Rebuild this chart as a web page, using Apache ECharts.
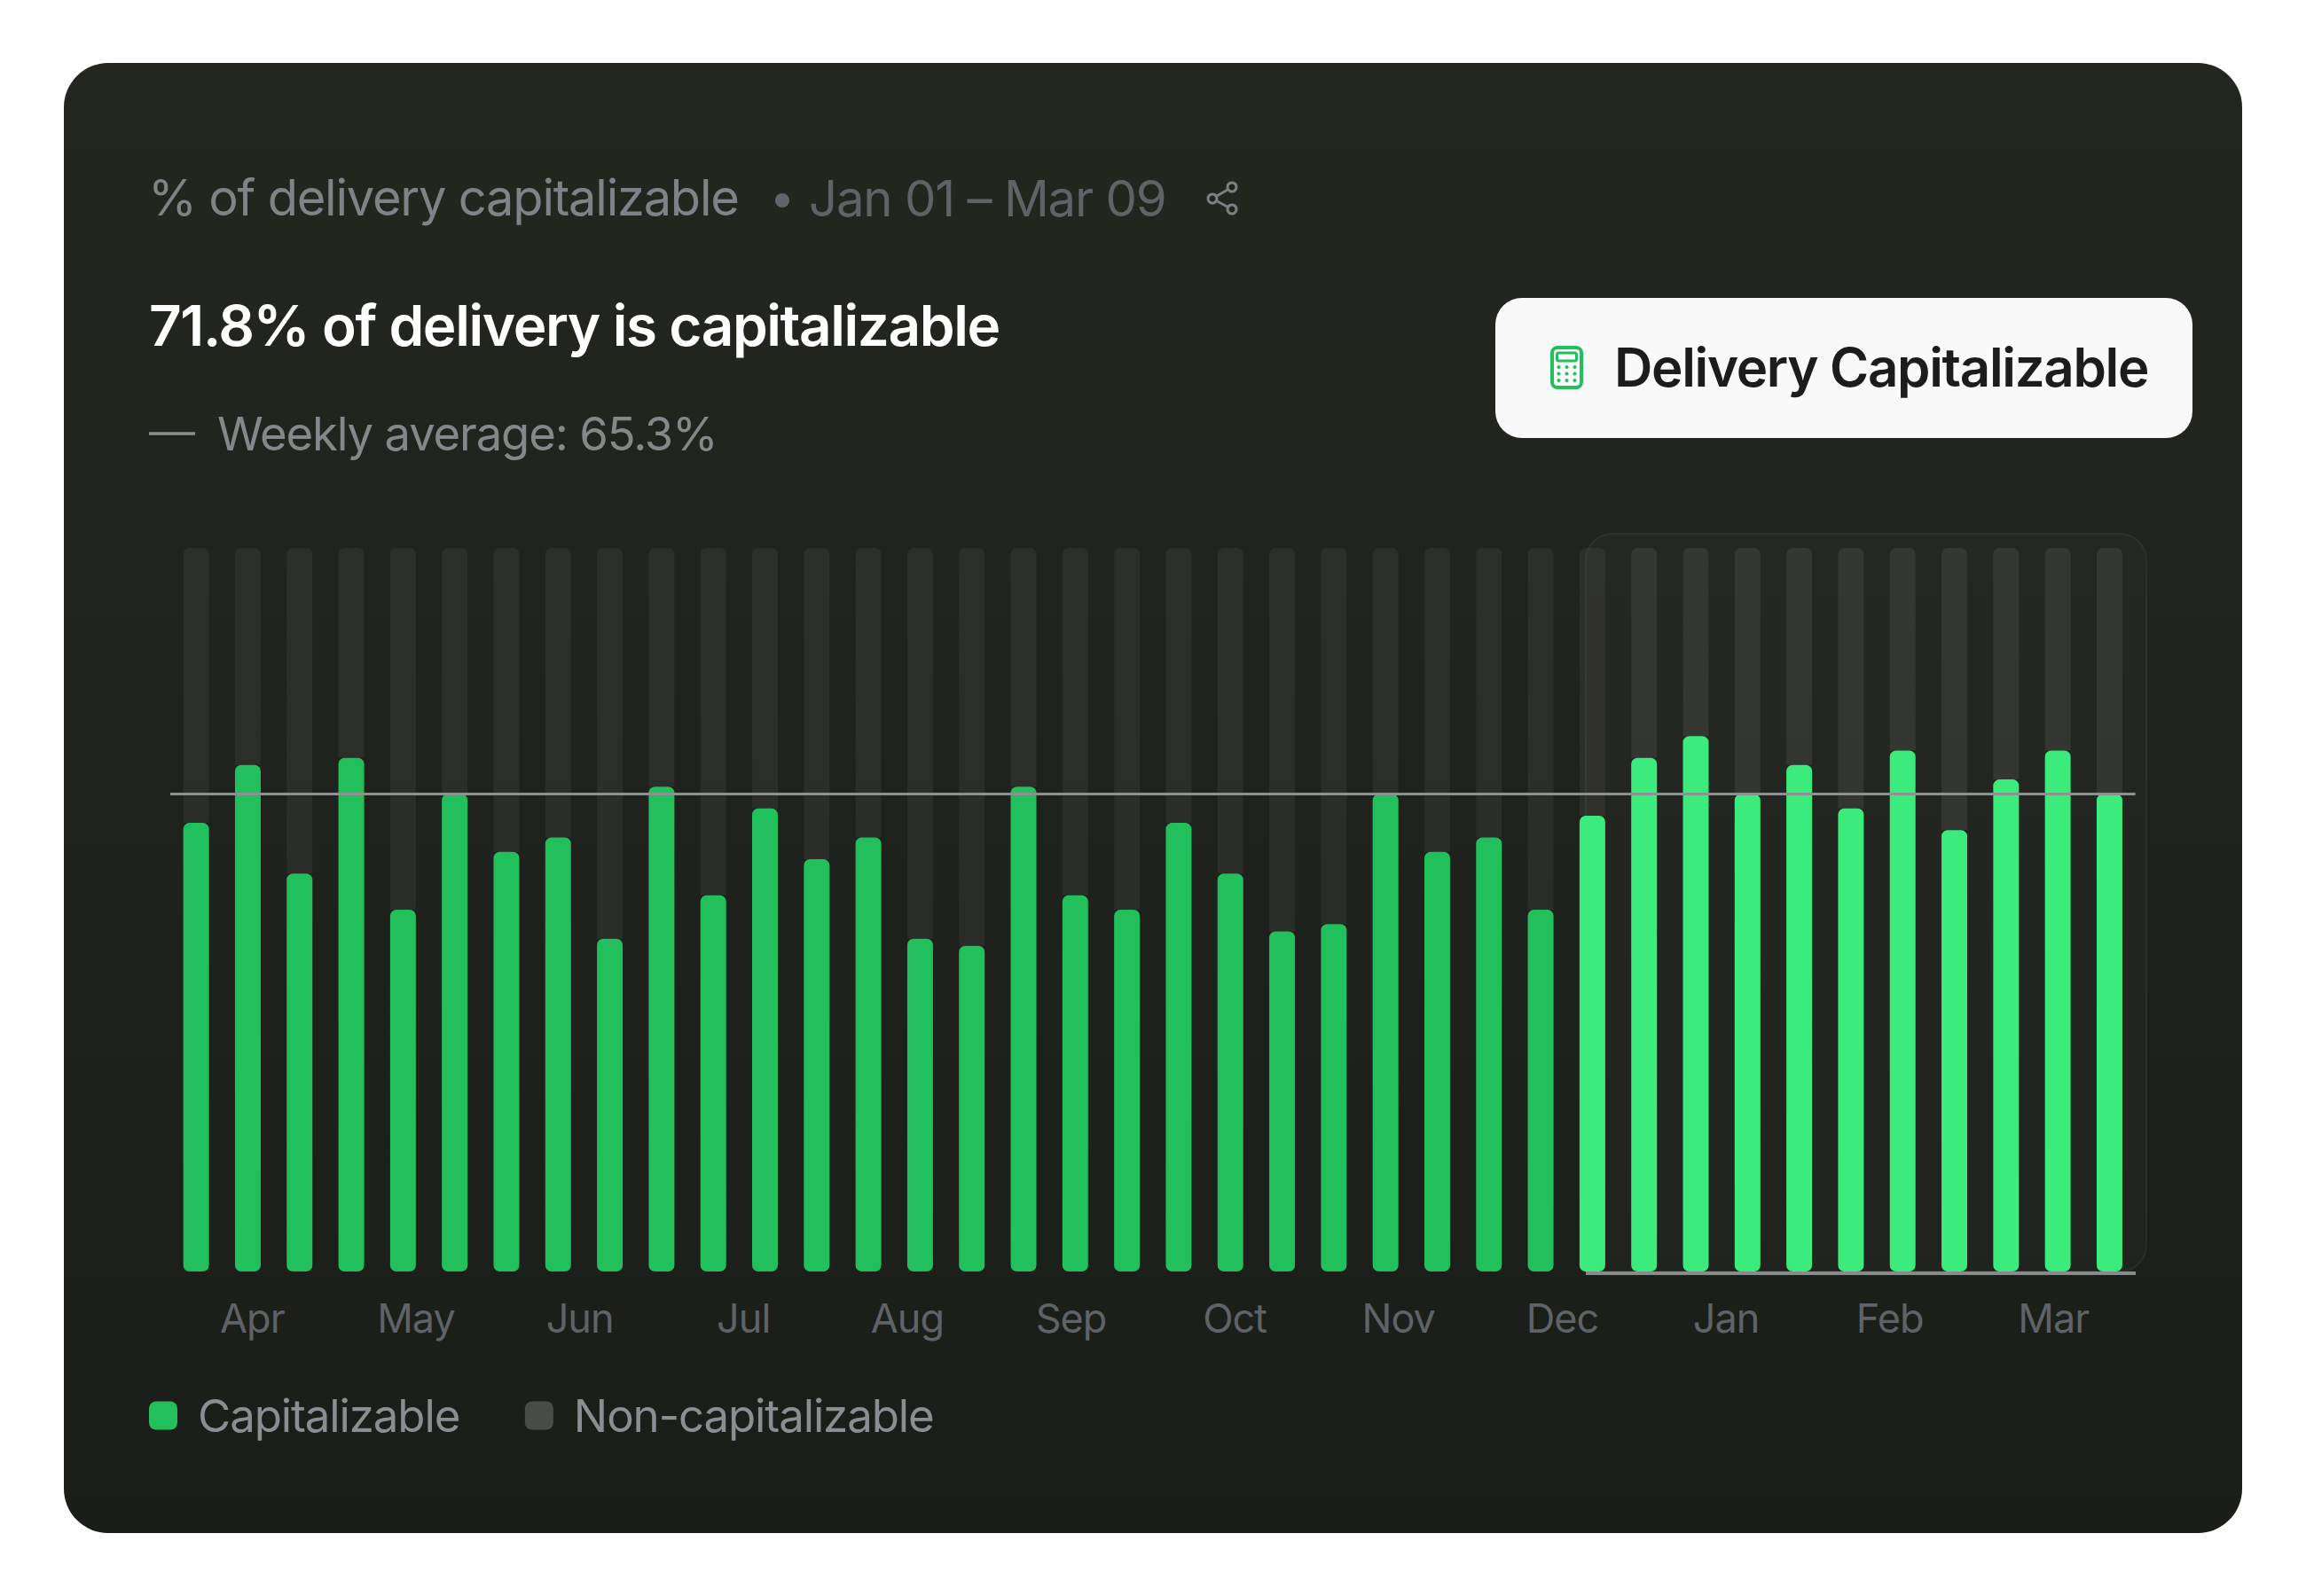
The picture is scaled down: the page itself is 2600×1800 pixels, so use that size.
<!DOCTYPE html>
<html><head><meta charset="utf-8">
<style>html,body{margin:0;padding:0;background:#fff}#c{width:2600px;height:1800px}#c svg text{letter-spacing:-0.022em}</style>
<script src="https://cdn.jsdelivr.net/npm/echarts@6/dist/echarts.min.js"></script>
</head><body><div id="c"></div>
<script>
const weeks = Array.from({length:38},(_, i)=>'W'+(i+1));
const months = ['Apr','May','Jun','Jul','Aug','Sep','Oct','Nov','Dec','Jan','Feb','Mar'];
const capitalizable = [62,70,55,71,50,66,58,60,46,67,52,64,57,60,46,45,67,52,50,62,55,47,48,66,58,60,50,63,71,74,66,70,64,72,61,68,72,66];
const nonCapitalizable = [38,30,45,29,50,34,42,40,54,33,48,36,43,40,54,55,33,48,50,38,45,53,52,34,42,40,50,37,29,26,34,30,36,28,39,32,28,34];
const highlightFrom = 27;
const averageLine = 66;

const DARK='#22c05c', BRIGHT='#3beb7b', FONT='Inter';
const txt=(x,y,text,size,fill,weight,extra)=>({type:'text',x,y,z:5,silent:true,style:Object.assign({text,fontFamily:FONT,fontSize:size,fontWeight:weight||400,fill,textVerticalAlign:'bottom',textAlign:'left'},extra||{})});
const graphics=[
 {type:'rect',z:-10,silent:true,shape:{x:72,y:71,width:2456,height:1658,r:50},style:{fill:new echarts.graphic.LinearGradient(0,0,0,1,[{offset:0,color:'#242720'},{offset:.35,color:'#21231e'},{offset:1,color:'#1b1d19'}])}},
 {type:'rect',z:-5,silent:true,shape:{x:1788,y:602,width:632,height:832,r:[30,30,30,0]},style:{fill:'rgba(255,255,255,0.02)',stroke:'rgba(255,255,255,0.06)',lineWidth:2}},
 {type:'line',z:1,silent:true,shape:{x1:1788,y1:1436,x2:2408,y2:1436},style:{stroke:'#888b8b',lineWidth:4}},
 txt(167,251,'% of delivery capitalizable',56,'#7f8387'),
 {type:'circle',z:5,silent:true,shape:{cx:882,cy:226,r:8},style:{fill:'#616468'}},
 txt(912,251,'Jan 01 – Mar 09',56.3,'#5f6266'),
 {type:'group',z:5,silent:true,children:[
   {type:'line',z:5,shape:{x1:1367,y1:224,x2:1389,y2:211},style:{stroke:'#7c7f82',lineWidth:3}},
   {type:'line',z:5,shape:{x1:1367,y1:224,x2:1389,y2:236},style:{stroke:'#7c7f82',lineWidth:3}},
   {type:'circle',z:6,shape:{cx:1367,cy:224,r:5},style:{fill:'#21231e',stroke:'#7c7f82',lineWidth:3}},
   {type:'circle',z:6,shape:{cx:1389,cy:211,r:5},style:{fill:'#21231e',stroke:'#7c7f82',lineWidth:3}},
   {type:'circle',z:6,shape:{cx:1389,cy:236,r:5},style:{fill:'#21231e',stroke:'#7c7f82',lineWidth:3}}
 ]},
 txt(168,398,'71.8% of delivery is capitalizable',63.8,'#ffffff',600),
 {type:'line',z:5,silent:true,shape:{x1:168,y1:489,x2:220,y2:489},style:{stroke:'#8b8f92',lineWidth:3.5}},
 txt(245,515,'Weekly average: 65.3%',52.6,'#84888b'),
 {type:'rect',z:5,silent:true,shape:{x:1686,y:336,width:786,height:158,r:30},style:{fill:'#f9f9f9'}},
 {type:'group',z:6,silent:true,children:[
   {type:'rect',z:6,shape:{x:1750,y:392,width:33,height:45,r:6},style:{fill:'none',stroke:DARK,lineWidth:4}},
   {type:'rect',z:6,shape:{x:1755.5,y:398,width:22,height:9,r:2},style:{fill:'none',stroke:DARK,lineWidth:3}},
   ...[[0,0],[1,0],[2,0],[0,1],[1,1],[2,1],[0,2],[1,2],[2,2]].map(([i,j])=>({type:'circle',z:6,shape:{cx:1757.5+i*9,cy:414+j*7.5,r:2},style:{fill:DARK}}))
 ]},
 txt(1820,444,'Delivery Capitalizable',60,'#1b1d1a',600)
];

const option={
 animation:false,
 backgroundColor:'#ffffff',
 graphic:{elements:graphics},
 grid:{left:192,right:192.4,top:618,bottom:366,containLabel:false},
 legend:{left:168,top:1571,padding:0,itemWidth:32,itemHeight:32,itemGap:59,icon:'roundRect',selectedMode:false,
   textStyle:{fontFamily:FONT,fontSize:51,color:'#8a8e92',padding:[0,0,0,18]},
   data:[{name:'Capitalizable',itemStyle:{color:DARK}},{name:'Non-capitalizable',itemStyle:{color:'#4a4c49'}}]},
 xAxis:[
  {type:'category',data:weeks,show:false,boundaryGap:true},
  {type:'category',data:months,position:'bottom',boundaryGap:true,axisLine:{show:false},axisTick:{show:false},
   axisLabel:{fontFamily:FONT,fontSize:45,color:'#5f6266',margin:30,interval:0}}
 ],
 yAxis:{type:'value',min:0,max:100,show:false,splitLine:{show:false}},
 series:[
  {name:'Capitalizable',type:'bar',stack:'t',barWidth:29,z:3,xAxisIndex:0,
   itemStyle:{color:DARK,borderRadius:7},
   data:capitalizable.map((v,i)=>({value:v,itemStyle:{color:i>=highlightFrom?BRIGHT:DARK}})),
   markLine:{silent:true,symbol:'none',label:{show:false},animation:false,lineStyle:{color:'#8e9190',width:3,type:'solid'},data:[{yAxis:averageLine}]}},
  {name:'Non-capitalizable',type:'bar',stack:'t',barWidth:29,z:2,xAxisIndex:0,
   itemStyle:{color:'#4a4c49',borderRadius:[7,7,0,0]},
   data:nonCapitalizable.map((v,i)=>({value:v,itemStyle:{color:i>highlightFrom?'rgba(255,255,255,0.075)':'rgba(255,255,255,0.055)'}}))}
 ]
};
echarts.init(document.getElementById('c'),null,{renderer:'svg',width:2600,height:1800}).setOption(option);
</script></body></html>
